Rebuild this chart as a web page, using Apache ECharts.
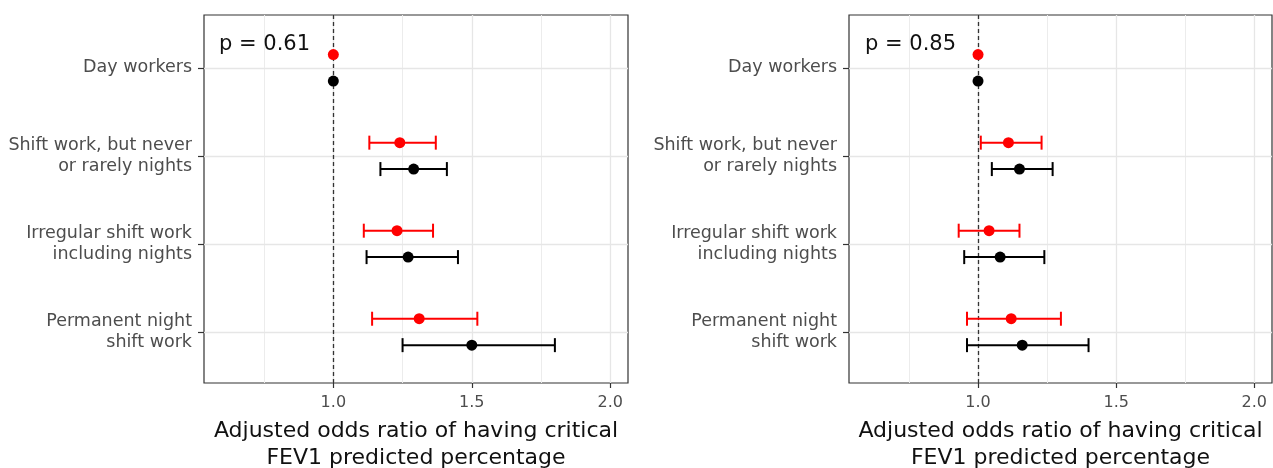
<!DOCTYPE html>
<html>
<head>
<meta charset="utf-8">
<script src="https://cdn.jsdelivr.net/npm/echarts@6/dist/echarts.min.js"></script>
<style>
	html, body { margin: 0; padding: 0; background: #fff; }
	#main { width: 1273px; height: 468px; }
</style>
</head>
<body>
<div id="main"></div>
<script>
//行名称（由上到下）及其在y轴上的位置
var categories = ['Day workers', 'Shift work, but never\nor rarely nights', 'Irregular shift work\nincluding nights', 'Permanent night\nshift work'];
var rowPos = [4, 3, 2, 1];
//左图数据（红 / 黑）
var leftRedOR = [1.00, 1.24, 1.23, 1.31];
var leftRedLo = [null, 1.13, 1.11, 1.14];
var leftRedHi = [null, 1.37, 1.36, 1.52];
var leftBlackOR = [1.00, 1.29, 1.27, 1.50];
var leftBlackLo = [null, 1.17, 1.12, 1.25];
var leftBlackHi = [null, 1.41, 1.45, 1.80];
//右图数据
var rightRedOR = [1.00, 1.11, 1.04, 1.12];
var rightRedLo = [null, 1.01, 0.93, 0.96];
var rightRedHi = [null, 1.23, 1.15, 1.30];
var rightBlackOR = [1.00, 1.15, 1.08, 1.16];
var rightBlackLo = [null, 1.05, 0.95, 0.96];
var rightBlackHi = [null, 1.27, 1.24, 1.40];
//p值
var pValues = ['p = 0.61', 'p = 0.85'];
//x轴刻度
var xMajor = [1.0, 1.5, 2.0];
var xMinor = [0.75, 1.25, 1.75];
var refLine = 1.0;
var xMin = 0.533, xMax = 2.064;
var yMin = 0.42, yMax = 4.6;
var dodge = 0.15;

var font = 'DejaVu Sans';
var mychart = echarts.init(document.getElementById('main'));

//误差线
function errorBarItem(params, api) {
	var y = api.value(0);
	var p1 = api.coord([api.value(1), y]);
	var p2 = api.coord([api.value(2), y]);
	var h = 7;
	var style = { stroke: api.visual('color'), lineWidth: 2 };
	return {
		type: 'group',
		children: [
			{ type: 'line', shape: { x1: p1[0], y1: p1[1], x2: p2[0], y2: p2[1] }, style: style },
			{ type: 'line', shape: { x1: p1[0], y1: p1[1] - h, x2: p1[0], y2: p1[1] + h }, style: style },
			{ type: 'line', shape: { x1: p2[0], y1: p2[1] - h, x2: p2[0], y2: p2[1] + h }, style: style }
		]
	};
}

function barData(lo, hi, off) {
	var arr = [];
	for (var i = 0; i < rowPos.length; i++) {
		if (lo[i] == null) continue;
		arr.push([rowPos[i] + off, lo[i], hi[i]]);
	}
	return arr;
}
function pointData(or, off) {
	var arr = [];
	for (var i = 0; i < rowPos.length; i++) {
		arr.push([or[i], rowPos[i] + off]);
	}
	return arr;
}

function gridLines() {
	var d = [];
	for (var i = 0; i < xMinor.length; i++) {
		d.push({ xAxis: xMinor[i], lineStyle: { color: '#ececec', width: 1, type: 'solid' } });
	}
	for (var i = 0; i < xMajor.length; i++) {
		d.push({ xAxis: xMajor[i], lineStyle: { color: '#e6e6e6', width: 1.3, type: 'solid' } });
	}
	for (var i = 0; i < rowPos.length; i++) {
		d.push({ yAxis: rowPos[i], lineStyle: { color: '#e6e6e6', width: 1.3, type: 'solid' } });
	}
	d.push({ xAxis: refLine, lineStyle: { color: '#333', width: 1.3, type: [4, 3] } });
	return d;
}

function panelSeries(idx, redOR, redLo, redHi, blackOR, blackLo, blackHi) {
	return [{
		type: 'scatter',
		xAxisIndex: idx,
		yAxisIndex: idx,
		data: [],
		z: 1,
		silent: true,
		markLine: {
			z: 1,
			silent: true,
			symbol: ['none', 'none'],
			label: { show: false },
			animation: false,
			data: gridLines()
		}
	}, {
		type: 'custom',
		xAxisIndex: idx,
		yAxisIndex: idx,
		renderItem: errorBarItem,
		itemStyle: { color: '#ff0000' },
		encode: { x: [1, 2], y: 0 },
		data: barData(redLo, redHi, dodge),
		z: 3
	}, {
		type: 'custom',
		xAxisIndex: idx,
		yAxisIndex: idx,
		renderItem: errorBarItem,
		itemStyle: { color: '#000' },
		encode: { x: [1, 2], y: 0 },
		data: barData(blackLo, blackHi, -dodge),
		z: 3
	}, {
		type: 'scatter',
		xAxisIndex: idx,
		yAxisIndex: idx,
		symbolSize: 11,
		itemStyle: { color: '#ff0000', opacity: 1 },
		data: pointData(redOR, dodge),
		z: 4
	}, {
		type: 'scatter',
		xAxisIndex: idx,
		yAxisIndex: idx,
		symbolSize: 11,
		itemStyle: { color: '#000', opacity: 1 },
		data: pointData(blackOR, -dodge),
		z: 4
	}];
}

function xAxisOpt(idx) {
	return {
		type: 'value',
		gridIndex: idx,
		min: xMin,
		max: xMax,
		axisLine: { show: false },
		splitLine: { show: false },
		axisTick: { show: true, customValues: xMajor, length: 5, lineStyle: { color: '#333', width: 1.2 } },
		axisLabel: {
			customValues: xMajor,
			margin: 12,
			color: '#4d4d4d',
			fontFamily: font,
			fontSize: 16,
			formatter: function (v) { return v.toFixed(1); }
		},
		name: 'Adjusted odds ratio of having critical\nFEV1 predicted percentage',
		nameLocation: 'middle',
		nameGap: 35,
		nameTextStyle: { color: '#111', fontFamily: font, fontSize: 22, lineHeight: 27 }
	};
}

function yAxisOpt(idx) {
	return {
		type: 'value',
		gridIndex: idx,
		min: yMin,
		max: yMax,
		axisLine: { show: false },
		splitLine: { show: false },
		axisTick: { show: true, customValues: rowPos, length: 6, lineStyle: { color: '#333', width: 1.2 } },
		axisLabel: {
			customValues: rowPos,
			margin: 12,
			color: '#4d4d4d',
			fontFamily: font,
			fontSize: 17.5,
			lineHeight: 21,
			align: 'right',
			formatter: function (v) { return categories[rowPos.indexOf(Math.round(v))]; }
		}
	};
}

var option = {
	animation: false,
	backgroundColor: '#fff',
	grid: [
		{ left: 204, top: 15, width: 424, height: 368, outerBoundsMode: 'none', containLabel: false, show: true, borderColor: '#333', borderWidth: 1.2, backgroundColor: '#fff' },
		{ left: 849, top: 15, width: 423, height: 368, outerBoundsMode: 'none', containLabel: false, show: true, borderColor: '#333', borderWidth: 1.2, backgroundColor: '#fff' }
	],
	xAxis: [xAxisOpt(0), xAxisOpt(1)],
	yAxis: [yAxisOpt(0), yAxisOpt(1)],
	graphic: [
		{ type: 'text', left: 219, top: 34, z: 10, style: { text: pValues[0], fill: '#111', font: '21px "DejaVu Sans"' } },
		{ type: 'text', left: 865, top: 34, z: 10, style: { text: pValues[1], fill: '#111', font: '21px "DejaVu Sans"' } }
	],
	series: panelSeries(0, leftRedOR, leftRedLo, leftRedHi, leftBlackOR, leftBlackLo, leftBlackHi)
		.concat(panelSeries(1, rightRedOR, rightRedLo, rightRedHi, rightBlackOR, rightBlackLo, rightBlackHi))
};
mychart.setOption(option);
</script>
</body>
</html>
